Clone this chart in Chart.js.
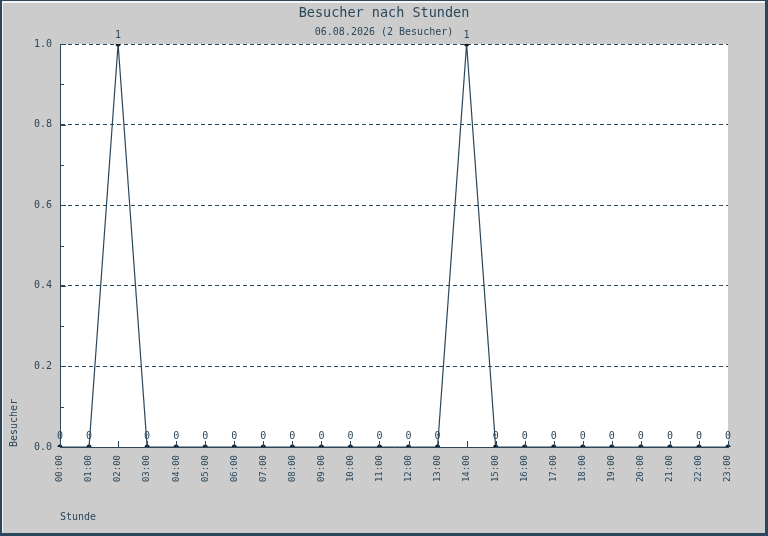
<!DOCTYPE html>
<html>
<head>
<meta charset="utf-8">
<title>Besucher nach Stunden</title>
<script src="https://cdn.jsdelivr.net/npm/chart.js@4/dist/chart.umd.min.js"></script>
<style>
    html, body { margin: 0; padding: 0; background: #cccccc; }
    canvas { display: block; }
</style>
</head>
<body>
<canvas id="visitors_chart" width="768" height="536"></canvas>
<script>
    const hours = ['00:00', '01:00', '02:00', '03:00', '04:00', '05:00', '06:00', '07:00',
        '08:00', '09:00', '10:00', '11:00', '12:00', '13:00', '14:00', '15:00',
        '16:00', '17:00', '18:00', '19:00', '20:00', '21:00', '22:00', '23:00'];
    const visitors = [0, 0, 1, 0, 0, 0, 0, 0, 0, 0, 0, 0, 0, 0, 1, 0, 0, 0, 0, 0, 0, 0, 0, 0];
    const chartTitle = 'Besucher nach Stunden';
    const chartSubtitle = '06.08.2026 (2 Besucher)';

    const ink = '#2b475b';
    const mono = 'DejaVu Sans Mono';

    // gray background, white plot area and the raised frame
    const backdrop = {
        id: 'backdrop',
        beforeDraw: function (chart) {
            const ctx = chart.ctx;
            const a = chart.chartArea;
            ctx.save();
            ctx.fillStyle = '#cccccc';
            ctx.fillRect(0, 0, chart.width, chart.height);
            ctx.fillStyle = '#ffffff';
            ctx.fillRect(a.left, a.top, a.right - a.left, a.bottom - a.top);
            ctx.restore();
        },
        afterDraw: function (chart) {
            const ctx = chart.ctx;
            const w = chart.width, h = chart.height;
            ctx.save();
            ctx.fillStyle = '#f4f4f4';
            ctx.fillRect(0, 1, w, 2);
            ctx.fillRect(2, 0, 1, h);
            ctx.fillStyle = ink;
            ctx.fillRect(0, 0, w, 1);
            ctx.fillRect(0, 0, 2, h);
            ctx.fillRect(w - 3, 0, 3, h);
            ctx.fillRect(0, h - 3, w, 3);
            ctx.restore();
        }
    };

    // small tick marks pointing into the plot
    const innerTicks = {
        id: 'innerTicks',
        afterDatasetsDraw: function (chart) {
            const ctx = chart.ctx;
            const a = chart.chartArea;
            const x = chart.scales.x, y = chart.scales.y;
            ctx.save();
            ctx.strokeStyle = ink;
            ctx.lineWidth = 1;
            ctx.beginPath();
            y.ticks.forEach((t, i) => {
                const py = Math.round(y.getPixelForValue(t.value)) + 0.5;
                ctx.moveTo(a.left, py);
                ctx.lineTo(a.left + (i % 2 === 0 ? 6 : 4), py);
            });
            hours.forEach((h, i) => {
                const px = Math.round(x.getPixelForValue(i)) + 0.5;
                ctx.moveTo(px, a.bottom);
                ctx.lineTo(px, a.bottom - 6);
            });
            ctx.stroke();
            ctx.restore();
        }
    };

    // value above every point
    const pointLabels = {
        id: 'pointLabels',
        afterDatasetsDraw: function (chart) {
            const ctx = chart.ctx;
            const meta = chart.getDatasetMeta(0);
            ctx.save();
            ctx.fillStyle = ink;
            ctx.font = '10px "' + mono + '"';
            ctx.textAlign = 'center';
            ctx.textBaseline = 'middle';
            meta.data.forEach((pt, i) => {
                ctx.fillText(String(visitors[i]), pt.x, pt.y - (visitors[i] > 0 ? 9 : 11));
            });
            ctx.restore();
        }
    };

    new Chart(document.getElementById('visitors_chart'), {
        type: 'line',
        data: {
            labels: hours,
            datasets: [{
                data: visitors,
                borderColor: ink,
                borderWidth: 1.2,
                tension: 0,
                pointRadius: 2.5,
                pointBackgroundColor: '#111c24',
                pointBorderColor: '#111c24',
                pointBorderWidth: 0,
            }],
        },
        options: {
            responsive: false,
            animation: false,
            layout: { padding: 0 },
            plugins: {
                legend: { display: false },
                tooltip: { enabled: false },
                title: {
                    display: true,
                    text: chartTitle,
                    color: ink,
                    font: { family: mono, size: 13.5, weight: 'normal' },
                    padding: { top: 5, bottom: 4.8 },
                },
                subtitle: {
                    display: true,
                    text: chartSubtitle,
                    color: ink,
                    font: { family: mono, size: 10, weight: 'normal' },
                    padding: { top: 0, bottom: 6 },
                },
            },
            scales: {
                x: {
                    offset: false,
                    grid: { display: false, drawTicks: false },
                    border: { display: true, color: ink, width: 1 },
                    ticks: {
                        color: ink,
                        font: { family: mono, size: 9 },
                        minRotation: 90,
                        maxRotation: 90,
                        autoSkip: false,
                        padding: 8,
                    },
                    title: {
                        display: true,
                        text: 'Stunde',
                        align: 'start',
                        color: ink,
                        font: { family: mono, size: 10 },
                        padding: { top: 0, bottom: 13 },
                    },
                    afterFit: function (scale) { scale.height = 89; },
                },
                y: {
                    min: 0,
                    max: 1,
                    grid: {
                        drawTicks: false,
                        color: (c) => (c.index % 2 === 0 && c.index > 0 ? ink : 'rgba(0,0,0,0)'),
                        lineWidth: 1,
                    },
                    border: { display: true, color: ink, width: 1, dash: [4, 3] },
                    ticks: {
                        stepSize: 0.1,
                        color: ink,
                        font: { family: mono, size: 10 },
                        padding: 8,
                        callback: (v, i) => (i % 2 === 0 ? Number(v).toFixed(1) : ''),
                    },
                    title: {
                        display: true,
                        text: 'Besucher',
                        align: 'start',
                        color: ink,
                        font: { family: mono, size: 10 },
                        padding: { top: 8, bottom: 0 },
                    },
                    afterFit: function (scale) { scale.width = 60; },
                },
                // empty right-hand margin, keeps the titles centred on the whole canvas
                yRight: {
                    position: 'right',
                    min: 0,
                    max: 1,
                    grid: { display: false, drawTicks: false },
                    border: { display: false },
                    ticks: { display: false },
                    afterFit: function (scale) { scale.width = 40; },
                },
            },
        },
        plugins: [backdrop, innerTicks, pointLabels],
    });
</script>
</body>
</html>
